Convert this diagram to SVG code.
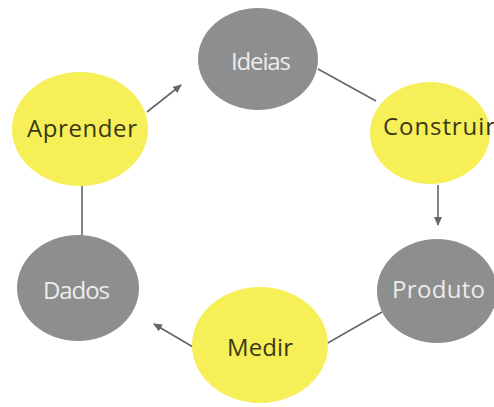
<svg xmlns="http://www.w3.org/2000/svg" width="494" height="407" viewBox="0 0 494 407">
<defs>
<style>
.gray{fill:#8d8e8e}
.yel{fill:#f6ef58}
.t{font-family:"Open Sans","Liberation Sans",sans-serif;font-size:24px;text-anchor:middle}
.tl{fill:#ececec}
.td{fill:#3a3814}
.c{stroke:#666666;stroke-width:1.6;fill:none}
</style>
<marker id="ah" markerWidth="9" markerHeight="8" refX="8" refY="4" orient="auto" markerUnits="userSpaceOnUse">
<path d="M0,0 L9,4 L0,8 z" fill="#666666"/>
</marker>
</defs>
<rect width="494" height="407" fill="#ffffff"/>
<g id="connectors">
<line class="c" x1="147" y1="112" x2="181" y2="85" marker-end="url(#ah)"/>
<line class="c" x1="318" y1="69" x2="376" y2="101"/>
<line class="c" x1="438" y1="185" x2="438" y2="225" marker-end="url(#ah)"/>
<line class="c" x1="382" y1="312" x2="326" y2="344"/>
<line class="c" x1="193" y1="347" x2="154" y2="324" marker-end="url(#ah)"/>
<line class="c" x1="82" y1="186" x2="82" y2="237"/>
</g>
<g id="ideias">
<ellipse class="gray" cx="258" cy="59" rx="60" ry="51"/>
<text class="t tl" x="261" y="70" textLength="60">Ideias</text>
</g>
<g id="construir">
<ellipse class="yel" cx="430" cy="133" rx="60" ry="51"/>
<text class="t td" x="439" y="135" textLength="112">Construir</text>
</g>
<g id="produto">
<ellipse class="gray" cx="437" cy="291" rx="60" ry="52"/>
<text class="t tl" x="438.5" y="298" textLength="93">Produto</text>
</g>
<g id="medir">
<ellipse class="yel" cx="260" cy="345" rx="68" ry="58"/>
<text class="t td" x="260" y="356" textLength="66">Medir</text>
</g>
<g id="dados">
<ellipse class="gray" cx="78" cy="288" rx="61" ry="53"/>
<text class="t tl" x="76.5" y="299" textLength="67">Dados</text>
</g>
<g id="aprender">
<ellipse class="yel" cx="80" cy="129" rx="68" ry="57"/>
<text class="t td" x="82" y="137" textLength="110">Aprender</text>
</g>
</svg>
